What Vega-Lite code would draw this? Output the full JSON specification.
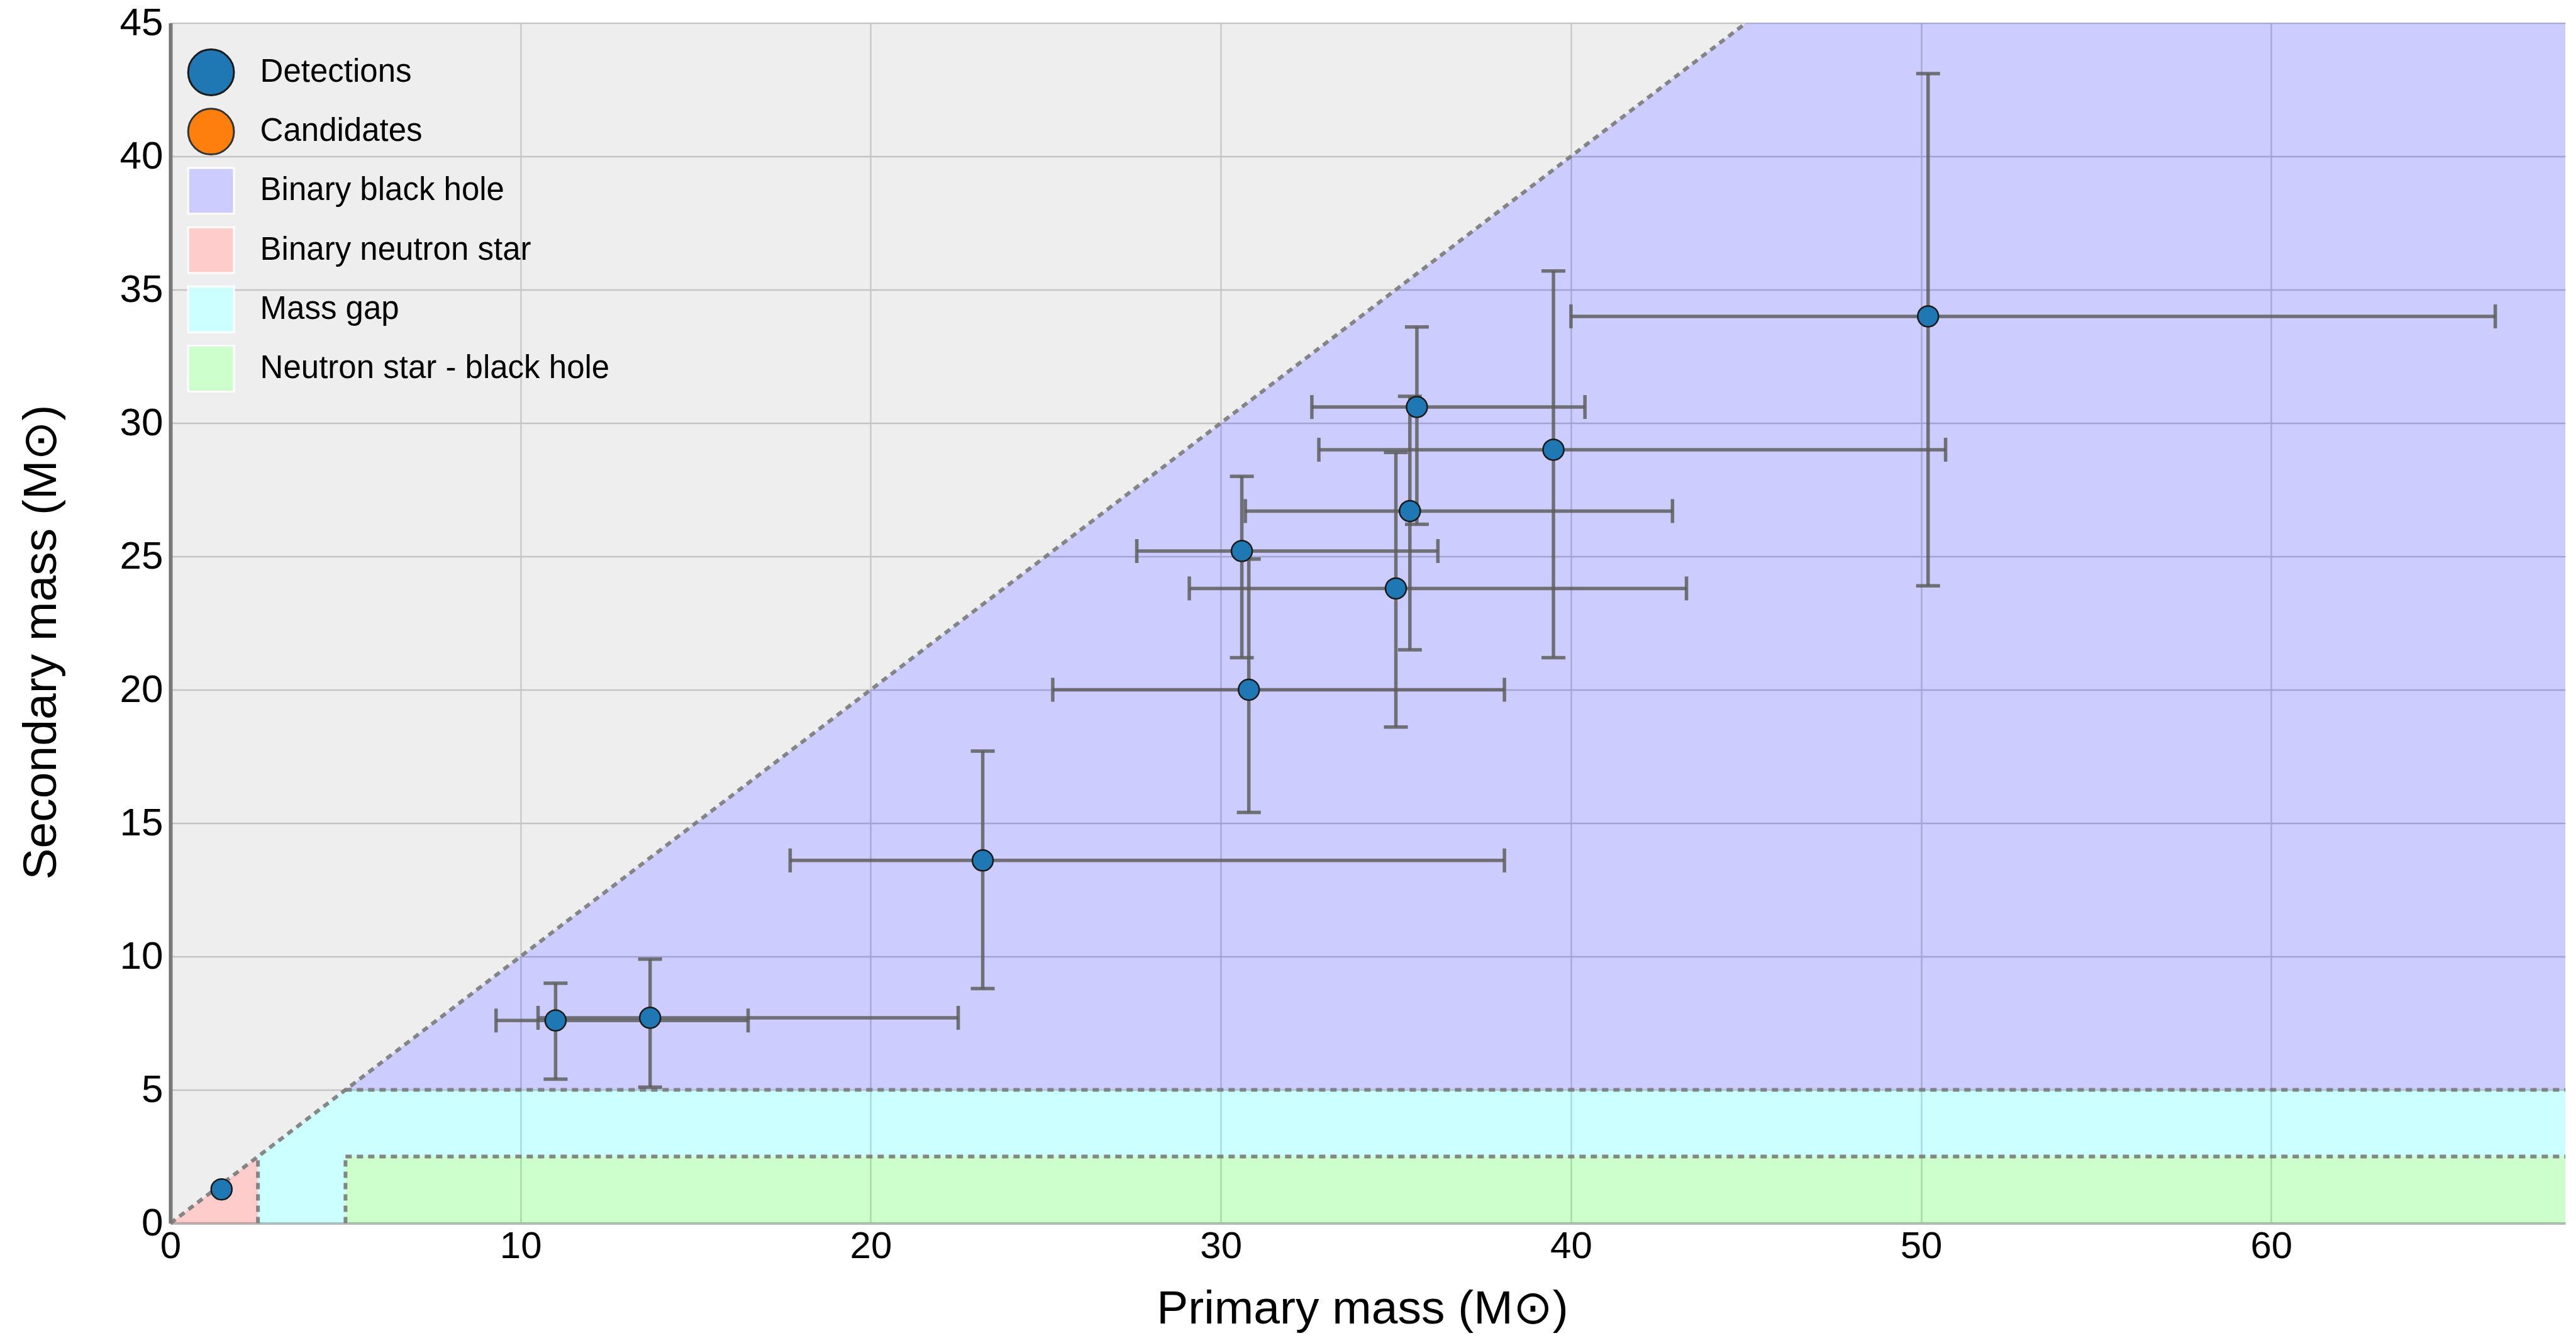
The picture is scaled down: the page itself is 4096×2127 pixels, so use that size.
{
  "$schema": "https://vega.github.io/schema/vega-lite/v6.json",
  "width": 3808,
  "height": 1908,
  "autosize": {"type": "none"},
  "padding": {"left": 271, "top": 36.5, "right": 17, "bottom": 182.5},
  "background": "white",
  "config": {
    "view": {"stroke": null, "fill": "white"},
    "font": "Liberation Sans",
    "axisX": {
      "grid": true, "gridColor": "#d2d2d2", "gridWidth": 2.5,
      "domainColor": "#b8b8b8", "domainWidth": 4,
      "ticks": false, "labelFontSize": 60, "labelColor": "#000000", "labelPadding": 8,
      "labelFlush": false, "labelOverlap": false, "labelFont": "Liberation Sans",
      "titleFontSize": 75, "titleFontWeight": "normal", "titleColor": "#000000", "titleFont": "Liberation Sans",
      "titleX": 1895, "titleY": 136, "titleBaseline": "middle", "titleAlign": "center"
    },
    "axisY": {
      "grid": true, "gridColor": "#cbcbcb", "gridWidth": 2.5,
      "domainColor": "#707070", "domainWidth": 6,
      "ticks": false, "labelFontSize": 62, "labelColor": "#000000", "labelPadding": 12,
      "labelOverlap": false, "labelFont": "Liberation Sans",
      "titleFontSize": 75, "titleFontWeight": "normal", "titleColor": "#000000", "titleFont": "Liberation Sans",
      "titleX": -206, "titleY": 984, "titleBaseline": "middle", "titleAlign": "center", "titleAngle": -90
    }
  },
  "datasets": {
    "excl": [{"x": 0, "lo": 0, "hi": 45}, {"x": 45, "lo": 45, "hi": 45}],
    "bbh": [{"x": 5, "lo": 5, "hi": 5}, {"x": 45, "lo": 5, "hi": 45}, {"x": 68.4, "lo": 5, "hi": 45}],
    "bns": [{"x": 0, "lo": 0, "hi": 0}, {"x": 2.5, "lo": 0, "hi": 2.5}],
    "gap": [
      {"part": "a", "x": 2.5, "lo": 0, "hi": 2.5}, {"part": "a", "x": 5, "lo": 0, "hi": 5},
      {"part": "b", "x": 5, "lo": 2.5, "hi": 5}, {"part": "b", "x": 68.4, "lo": 2.5, "hi": 5}
    ],
    "nsbh": [{"x": 5, "lo": 0, "hi": 2.5}, {"x": 68.4, "lo": 0, "hi": 2.5}],
    "bounds": [
      {"x": 0, "y": 0, "x2": 45, "y2": 45},
      {"x": 5, "y": 5, "x2": 68.4, "y2": 5},
      {"x": 5, "y": 2.5, "x2": 68.4, "y2": 2.5},
      {"x": 2.5, "y": 0, "x2": 2.5, "y2": 2.5},
      {"x": 5, "y": 0, "x2": 5, "y2": 2.5}
    ],
    "gw": [
      {"name": "GW150914", "type": "Detections", "m1": 35.6, "m1lo": 32.6, "m1hi": 40.4, "m2": 30.6, "m2lo": 26.2, "m2hi": 33.6},
      {"name": "GW151012", "type": "Detections", "m1": 23.2, "m1lo": 17.7, "m1hi": 38.1, "m2": 13.6, "m2lo": 8.8, "m2hi": 17.7},
      {"name": "GW151226", "type": "Detections", "m1": 13.7, "m1lo": 10.5, "m1hi": 22.5, "m2": 7.7, "m2lo": 5.1, "m2hi": 9.9},
      {"name": "GW170104", "type": "Detections", "m1": 30.8, "m1lo": 25.2, "m1hi": 38.1, "m2": 20.0, "m2lo": 15.4, "m2hi": 24.9},
      {"name": "GW170608", "type": "Detections", "m1": 11.0, "m1lo": 9.3, "m1hi": 16.5, "m2": 7.6, "m2lo": 5.4, "m2hi": 9.0},
      {"name": "GW170729", "type": "Detections", "m1": 50.2, "m1lo": 40.0, "m1hi": 66.4, "m2": 34.0, "m2lo": 23.9, "m2hi": 43.1},
      {"name": "GW170809", "type": "Detections", "m1": 35.0, "m1lo": 29.1, "m1hi": 43.3, "m2": 23.8, "m2lo": 18.6, "m2hi": 28.9},
      {"name": "GW170814", "type": "Detections", "m1": 30.6, "m1lo": 27.6, "m1hi": 36.2, "m2": 25.2, "m2lo": 21.2, "m2hi": 28.0},
      {"name": "GW170817", "type": "Detections", "m1": 1.46, "m1lo": 1.36, "m1hi": 1.58, "m2": 1.27, "m2lo": 1.18, "m2hi": 1.36},
      {"name": "GW170818", "type": "Detections", "m1": 35.4, "m1lo": 30.7, "m1hi": 42.9, "m2": 26.7, "m2lo": 21.5, "m2hi": 31.0},
      {"name": "GW170823", "type": "Detections", "m1": 39.5, "m1lo": 32.8, "m1hi": 50.7, "m2": 29.0, "m2lo": 21.2, "m2hi": 35.7}
    ]
  },
  "layer": [
    {
      "data": {"name": "excl"},
      "mark": {"type": "area", "color": "#aaaaaa", "opacity": 0.2},
      "encoding": {
        "x": {"field": "x", "type": "quantitative", "scale": {"domain": [0, 68.4], "nice": false, "zero": true},
              "axis": {"title": "Primary mass (M⊙)", "values": [0, 10, 20, 30, 40, 50, 60]}},
        "y": {"field": "hi", "type": "quantitative", "stack": null, "scale": {"domain": [0, 45], "nice": false},
              "axis": {"title": "Secondary mass (M⊙)", "values": [0, 5, 10, 15, 20, 25, 30, 35, 40, 45]}},
        "y2": {"field": "lo"}
      }
    },
    {
      "data": {"name": "bbh"},
      "mark": {"type": "area", "color": "#0000ff", "opacity": 0.2},
      "encoding": {
        "x": {"field": "x", "type": "quantitative"},
        "y": {"field": "hi", "type": "quantitative", "stack": null},
        "y2": {"field": "lo"}
      }
    },
    {
      "data": {"name": "bns"},
      "mark": {"type": "area", "color": "#ff0000", "opacity": 0.2},
      "encoding": {
        "x": {"field": "x", "type": "quantitative"},
        "y": {"field": "hi", "type": "quantitative", "stack": null},
        "y2": {"field": "lo"}
      }
    },
    {
      "data": {"name": "gap"},
      "mark": {"type": "area", "color": "#00ffff", "opacity": 0.2},
      "encoding": {
        "x": {"field": "x", "type": "quantitative"},
        "y": {"field": "hi", "type": "quantitative", "stack": null},
        "y2": {"field": "lo"},
        "detail": {"field": "part"}
      }
    },
    {
      "data": {"name": "nsbh"},
      "mark": {"type": "area", "color": "#00ff00", "opacity": 0.2},
      "encoding": {
        "x": {"field": "x", "type": "quantitative"},
        "y": {"field": "hi", "type": "quantitative", "stack": null},
        "y2": {"field": "lo"}
      }
    },
    {
      "data": {"name": "bounds"},
      "mark": {"type": "rule", "color": "#7a7a7a", "opacity": 0.9, "strokeWidth": 6, "strokeDash": [10, 8], "strokeCap": "butt"},
      "encoding": {
        "x": {"field": "x", "type": "quantitative"},
        "y": {"field": "y", "type": "quantitative"},
        "x2": {"field": "x2"},
        "y2": {"field": "y2"}
      }
    },
    {
      "data": {"name": "gw"},
      "transform": [{"filter": "datum.m1 > 5"}],
      "layer": [
        {
          "mark": {"type": "rule", "color": "#5e5e5e", "opacity": 0.85, "strokeWidth": 5.5},
          "encoding": {
            "x": {"field": "m1", "type": "quantitative"},
            "y": {"field": "m2lo", "type": "quantitative"},
            "y2": {"field": "m2hi"}
          }
        },
        {
          "mark": {"type": "rule", "color": "#5e5e5e", "opacity": 0.85, "strokeWidth": 5.5},
          "encoding": {
            "y": {"field": "m2", "type": "quantitative"},
            "x": {"field": "m1lo", "type": "quantitative"},
            "x2": {"field": "m1hi"}
          }
        },
        {
          "mark": {"type": "tick", "orient": "horizontal", "color": "#5e5e5e", "opacity": 0.85, "size": 38, "thickness": 5.5},
          "encoding": {
            "x": {"field": "m1", "type": "quantitative"},
            "y": {"field": "m2lo", "type": "quantitative"}
          }
        },
        {
          "mark": {"type": "tick", "orient": "horizontal", "color": "#5e5e5e", "opacity": 0.85, "size": 38, "thickness": 5.5},
          "encoding": {
            "x": {"field": "m1", "type": "quantitative"},
            "y": {"field": "m2hi", "type": "quantitative"}
          }
        },
        {
          "mark": {"type": "tick", "orient": "vertical", "color": "#5e5e5e", "opacity": 0.85, "size": 38, "thickness": 5.5},
          "encoding": {
            "x": {"field": "m1lo", "type": "quantitative"},
            "y": {"field": "m2", "type": "quantitative"}
          }
        },
        {
          "mark": {"type": "tick", "orient": "vertical", "color": "#5e5e5e", "opacity": 0.85, "size": 38, "thickness": 5.5},
          "encoding": {
            "x": {"field": "m1hi", "type": "quantitative"},
            "y": {"field": "m2", "type": "quantitative"}
          }
        }
      ]
    },
    {
      "data": {"name": "gw"},
      "mark": {"type": "point", "filled": true, "size": 1089, "strokeWidth": 2.5, "opacity": 1},
      "encoding": {
        "x": {"field": "m1", "type": "quantitative"},
        "y": {"field": "m2", "type": "quantitative"},
        "fill": {
          "field": "type", "type": "nominal",
          "scale": {
            "domain": ["Detections", "Candidates", "Binary black hole", "Binary neutron star", "Mass gap", "Neutron star - black hole"],
            "range": ["#1f77b4", "#ff7f0e", "#ccccff", "#ffcccc", "#ccffff", "#ccffcc"]
          },
          "legend": {
            "orient": "none", "legendX": 26.6, "legendY": 40.5, "title": null, "padding": 0,
            "symbolSize": 5300, "symbolStrokeWidth": 3, "labelFontSize": 51, "labelFont": "Liberation Sans",
            "labelColor": "#000000", "rowPadding": 8.2, "labelOffset": 40, "symbolOpacity": 1, "labelLimit": 2000
          }
        },
        "shape": {
          "field": "type", "type": "nominal",
          "scale": {
            "domain": ["Detections", "Candidates", "Binary black hole", "Binary neutron star", "Mass gap", "Neutron star - black hole"],
            "range": ["circle", "circle", "square", "square", "square", "square"]
          }
        },
        "stroke": {
          "field": "type", "type": "nominal",
          "scale": {
            "domain": ["Detections", "Candidates", "Binary black hole", "Binary neutron star", "Mass gap", "Neutron star - black hole"],
            "range": ["#1a1a1a", "#333333", "#ffffff", "#ffffff", "#ffffff", "#ffffff"]
          }
        }
      }
    }
  ]
}
